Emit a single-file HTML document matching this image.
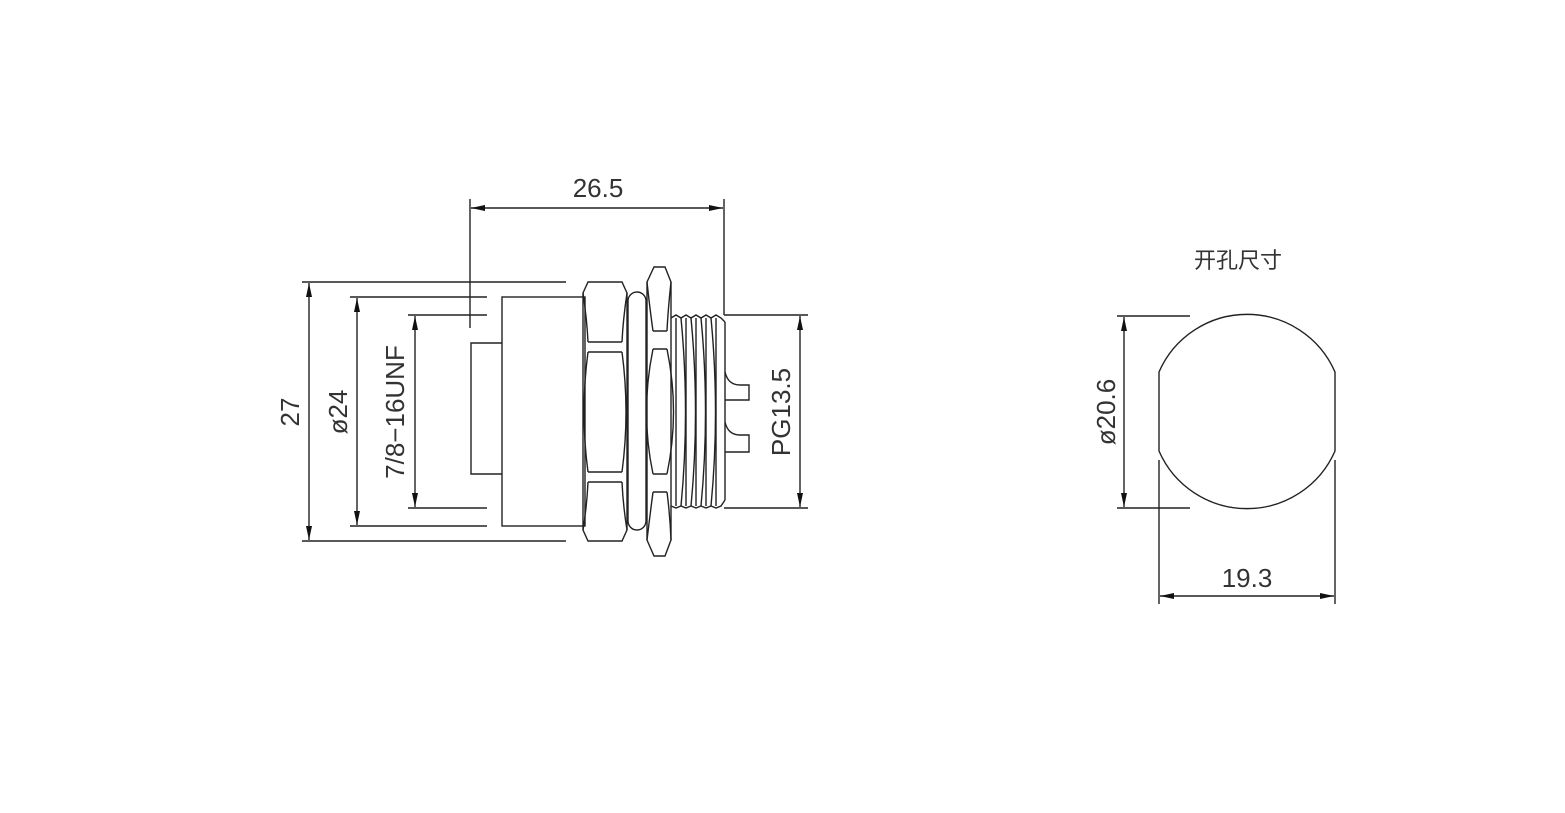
<!DOCTYPE html>
<html><head><meta charset="utf-8"><style>
html,body{margin:0;padding:0;background:#fff;}
svg{display:block}
text{font-family:"Liberation Sans","Noto Sans CJK SC",sans-serif;fill:#333;}
</style></head><body>
<svg width="1565" height="813" viewBox="0 0 1565 813" xmlns="http://www.w3.org/2000/svg">
<defs>
<marker id="a" viewBox="0 0 14 6" refX="14" refY="3" markerWidth="14" markerHeight="6" orient="auto-start-reverse" markerUnits="userSpaceOnUse"><path d="M0,0 L14,3 L0,6z" fill="#111"/></marker>
</defs>
<g stroke="#222" stroke-width="1.4" fill="none">
<!-- 26.5 -->
<line x1="470" y1="199" x2="470" y2="328"/>
<line x1="724" y1="199" x2="724" y2="315"/>
<line x1="471" y1="208" x2="723" y2="208" marker-start="url(#a)" marker-end="url(#a)"/>
<!-- 27 -->
<line x1="302" y1="282" x2="566" y2="282"/>
<line x1="302" y1="541" x2="566" y2="541"/>
<line x1="309" y1="283" x2="309" y2="540" marker-start="url(#a)" marker-end="url(#a)"/>
<!-- Ø24 -->
<line x1="350" y1="297" x2="487" y2="297"/>
<line x1="350" y1="526" x2="487" y2="526"/>
<line x1="357" y1="298" x2="357" y2="525" marker-start="url(#a)" marker-end="url(#a)"/>
<!-- 7/8 -->
<line x1="408" y1="315" x2="487" y2="315"/>
<line x1="408" y1="508" x2="487" y2="508"/>
<line x1="415" y1="316" x2="415" y2="507" marker-start="url(#a)" marker-end="url(#a)"/>
<!-- PG13.5 -->
<line x1="724" y1="315" x2="808" y2="315"/>
<line x1="724" y1="508" x2="808" y2="508"/>
<line x1="800" y1="316" x2="800" y2="507" marker-start="url(#a)" marker-end="url(#a)"/>
<!-- body -->
<rect x="502" y="297" width="83" height="229"/>
<path d="M502,343 H471 V474 H502"/>
<!-- hex nut -->
<path d="M588,282 H622 L627,293 V530 L622,541 H588 L583,530 V293 Z"/>
<path d="M583,293 Q587,320 588,342 M627,293 Q623,320 622,342 M588,342 H622 M588,352 H622 M588,352 Q580,412 588,472 M622,352 Q630,412 622,472 M588,472 H622 M588,482 H622 M588,482 Q587,505 583,530 M622,482 Q623,505 627,530"/>
<!-- washer -->
<rect x="628" y="292" width="18" height="238" rx="9"/>
<!-- second nut -->
<path d="M654,267 H665 L671,282 V540 L665,556 H654 L647,540 V282 Z"/>
<path d="M653,331 H667 M653,349 H667 M653,474 H667 M653,492 H667 M647,282 Q650,310 653,331 M671,282 Q668,310 667,331 M653,349 Q640,412 653,474 M667,349 Q680,412 667,474 M653,492 Q650,515 647,540 M667,492 Q670,515 671,540"/>
<!-- thread -->
<path d="M671,318 L676,315 L681,318 L686,315 L691,318 L696,315 L701,318 L706,315 L711,318 L716,315 L721,318 L725,322"/>
<path d="M671,506 L676,508 L681,506 L686,508 L691,506 L696,508 L701,506 L706,508 L711,506 L716,508 L721,506 L725,500"/>
<path d="M676,318 V506 M686,318 V506 M696,318 V506 M706,318 V506 M716,318 V506 M725,322 V500"/>
<path d="M681,318 Q690,412 681,506 M691,318 Q700,412 691,506 M701,318 Q710,412 701,506 M711,318 Q720,412 711,506"/>
<!-- tabs -->
<path d="M725,372 Q728,385 740,385 H749 V400 H725"/>
<path d="M725,422 Q728,435 740,435 H749 V452 H725"/>
<!-- right: hole -->
<path d="M1159,372 A96,96 0 0 1 1335,372 V451 A96,96 0 0 1 1159,451 Z"/>
<line x1="1117" y1="316" x2="1190" y2="316"/>
<line x1="1117" y1="508" x2="1190" y2="508"/>
<line x1="1124" y1="317" x2="1124" y2="507" marker-start="url(#a)" marker-end="url(#a)"/>
<line x1="1159" y1="460" x2="1159" y2="604"/>
<line x1="1335" y1="460" x2="1335" y2="604"/>
<line x1="1160" y1="596" x2="1334" y2="596" marker-start="url(#a)" marker-end="url(#a)"/>
</g>
<g font-size="26">
<text x="598" y="197" text-anchor="middle">26.5</text>
<text x="1247" y="587" text-anchor="middle">19.3</text>
<text transform="translate(299,412) rotate(-90)" text-anchor="middle">27</text>
<text transform="translate(347,412) rotate(-90)" text-anchor="middle">ø24</text>
<text transform="translate(404,412) rotate(-90)" text-anchor="middle">7/8−16UNF</text>
<text transform="translate(790,412) rotate(-90)" text-anchor="middle">PG13.5</text>
<text transform="translate(1115,412) rotate(-90)" text-anchor="middle">ø20.6</text>
<text x="1238" y="268" text-anchor="middle" font-size="22">开孔尺寸</text>
</g>
</svg>
</body></html>
